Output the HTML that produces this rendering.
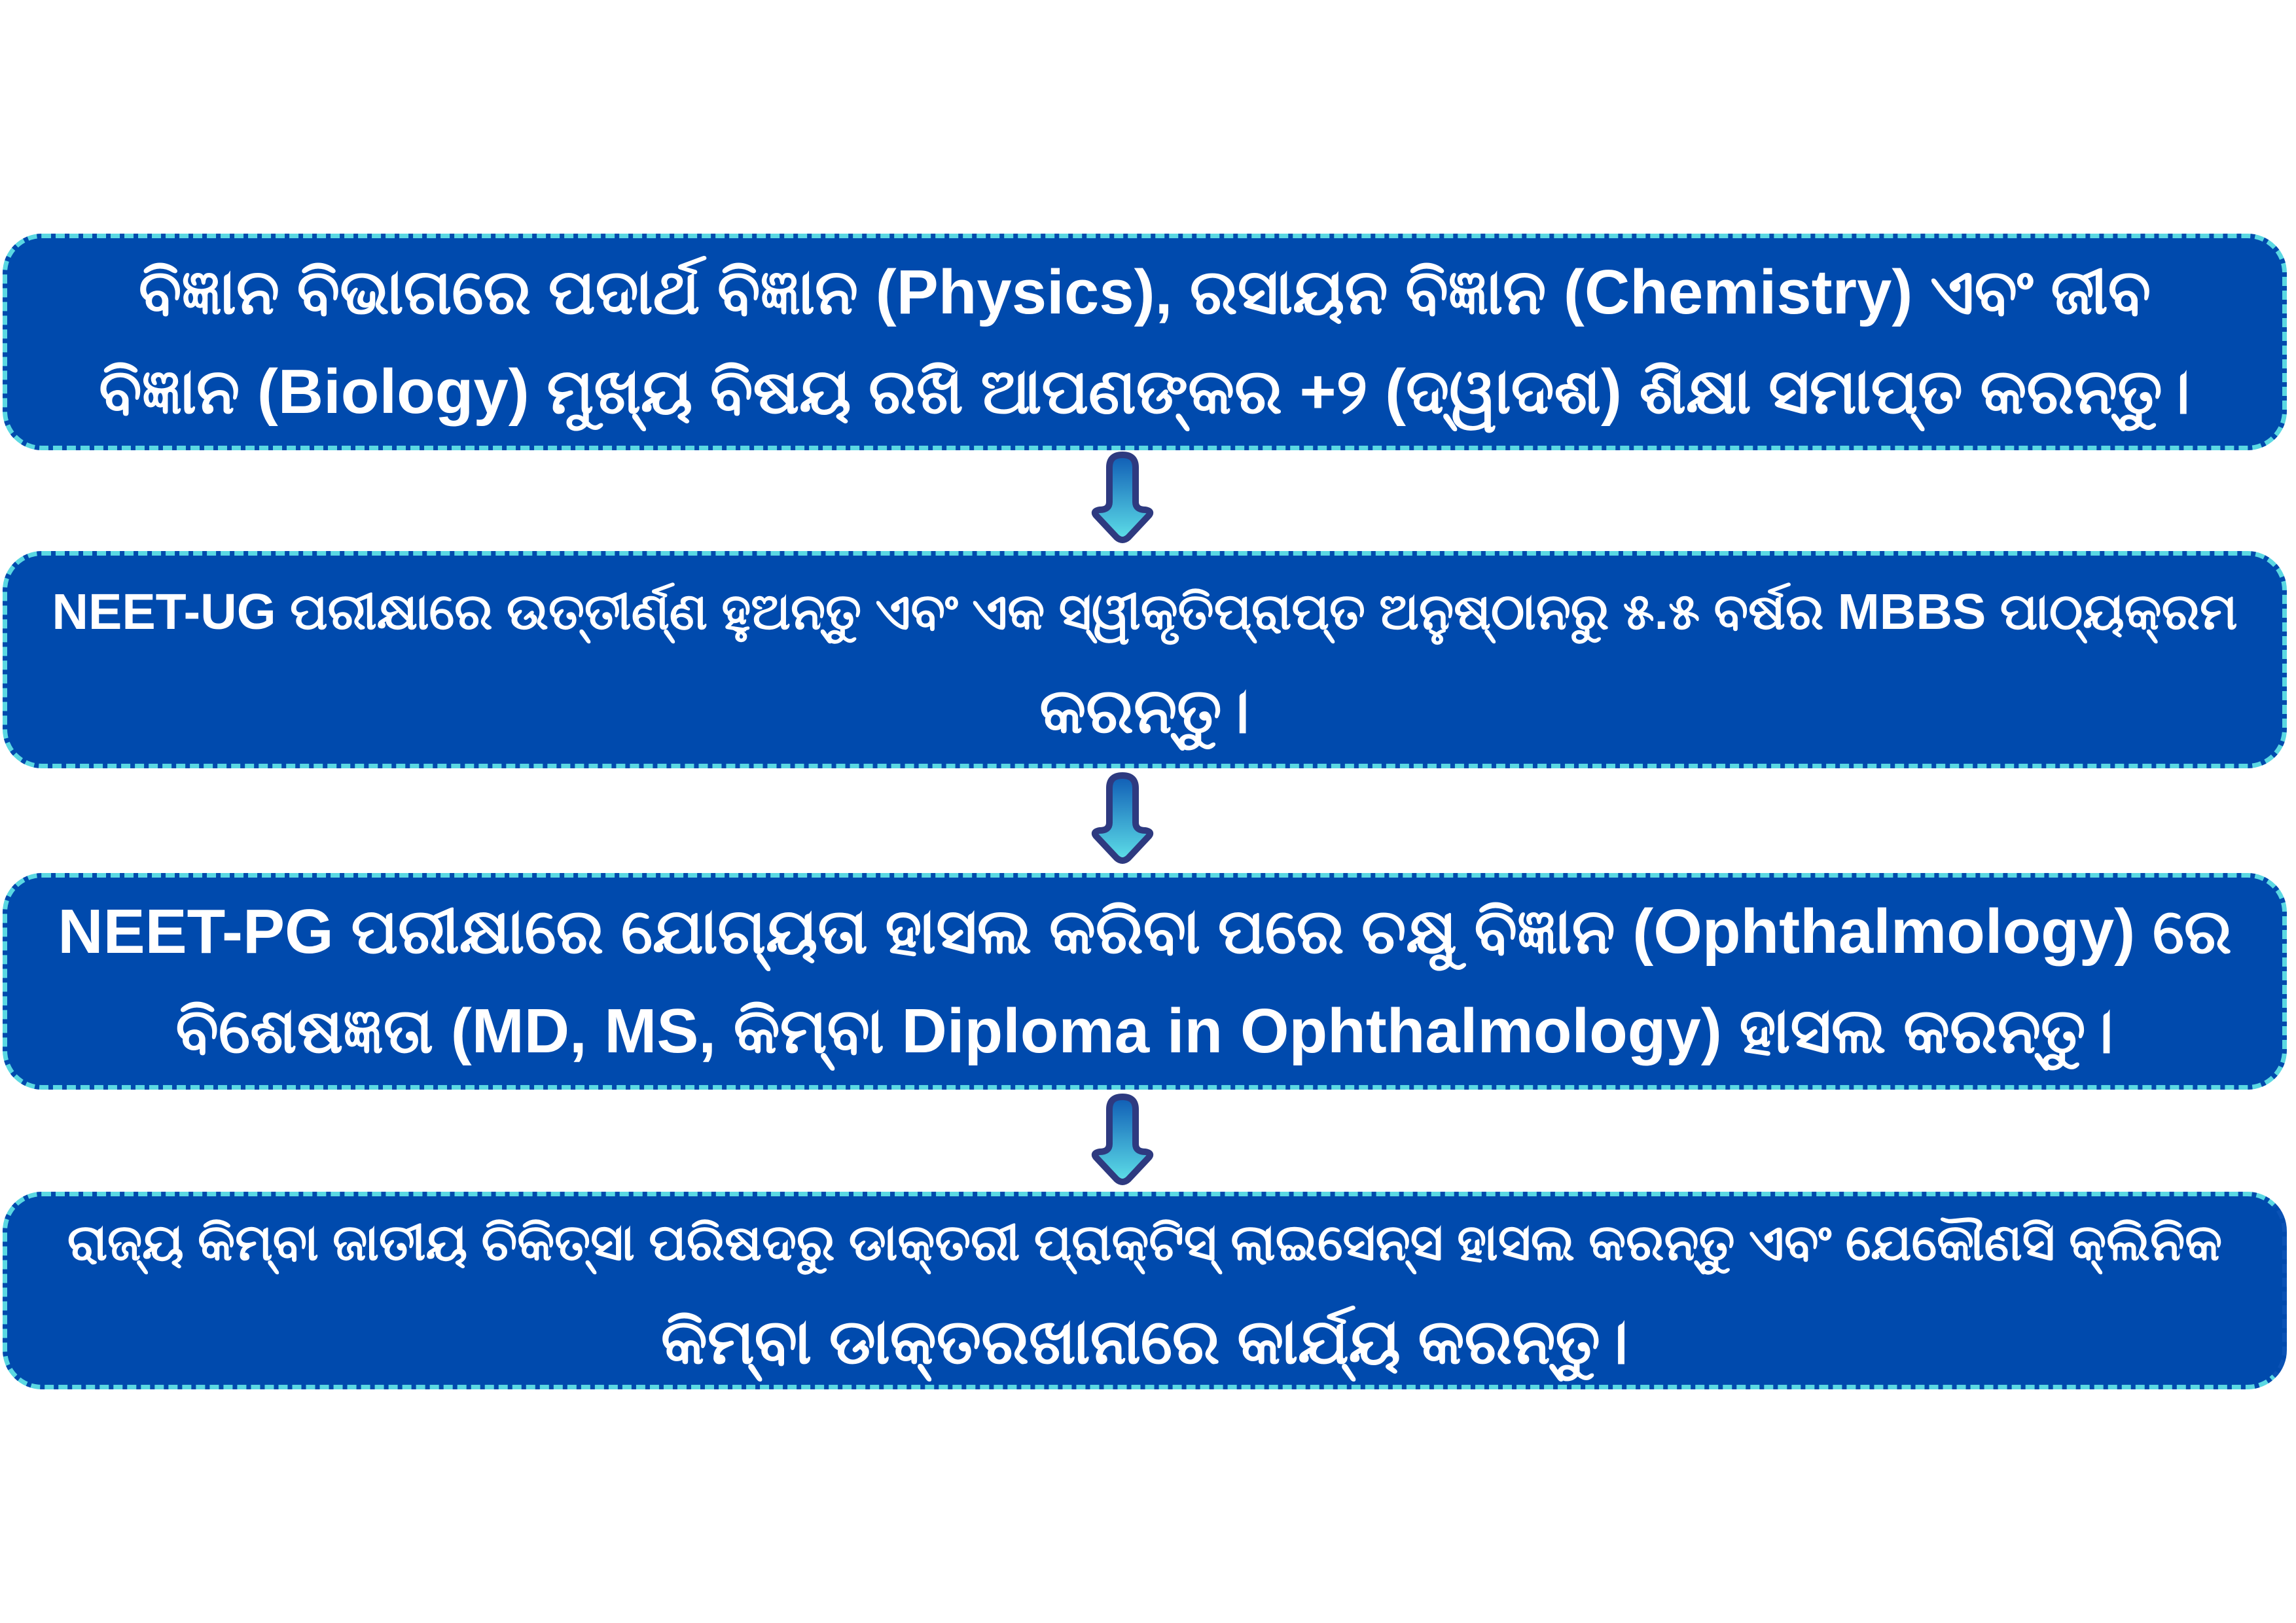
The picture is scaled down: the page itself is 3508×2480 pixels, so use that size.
<!DOCTYPE html>
<html><head><meta charset="utf-8"><style>
html,body{margin:0;padding:0;background:#fff;}
body{width:3508px;height:2480px;position:relative;overflow:hidden;font-family:"Liberation Sans","DejaVu Sans",sans-serif;}
.box{position:absolute;left:4px;width:3490px;background:#004aad;border:7px dashed #5ad8e2;border-radius:60px;box-sizing:border-box;color:#fff;font-weight:bold;font-size:96px;line-height:152px;text-align:center;display:flex;align-items:center;justify-content:center;padding:0 10px;white-space:nowrap;}
.sm{font-size:77px;}
.arr{position:absolute;left:1662px;width:106px;height:142px;}
</style></head><body>
<div class="box" style="top:357px;height:331px;"><div>ବିଜ୍ଞାନ ବିଭାଗରେ ପଦାର୍ଥ ବିଜ୍ଞାନ (Physics), ରସାୟନ ବିଜ୍ଞାନ (Chemistry) ଏବଂ ଜୀବ<br>ବିଜ୍ଞାନ (Biology) ମୁଖ୍ୟ ବିଷୟ ରଖି ଆପଣଙ୍କର +୨ (ଦ୍ୱାଦଶ) ଶିକ୍ଷା ସମାପ୍ତ କରନ୍ତୁ।</div></div>
<div class="box" style="top:842px;height:332px;"><div><span class="sm">NEET-UG ପରୀକ୍ଷାରେ ଉତ୍ତୀର୍ଣ୍ଣ ହୁଅନ୍ତୁ ଏବଂ ଏକ ସ୍ୱୀକୃତିପ୍ରାପ୍ତ ଅନୁଷ୍ଠାନରୁ ୫.୫ ବର୍ଷର MBBS ପାଠ୍ୟକ୍ରମ</span><br>କରନ୍ତୁ।</div></div>
<div class="box" style="top:1334px;height:331px;"><div>NEET-PG ପରୀକ୍ଷାରେ ଯୋଗ୍ୟତା ହାସଲ କରିବା ପରେ ଚକ୍ଷୁ ବିଜ୍ଞାନ (Ophthalmology) ରେ<br>ବିଶେଷଜ୍ଞତା (MD, MS, କିମ୍ବା Diploma in Ophthalmology) ହାସଲ କରନ୍ତୁ।</div></div>
<div class="box" style="top:1821px;height:302px;border-right-color:#0a52b5;"><div><span class="sm">ରାଜ୍ୟ କିମ୍ବା ଜାତୀୟ ଚିକିତ୍ସା ପରିଷଦରୁ ଡାକ୍ତରୀ ପ୍ରାକ୍ଟିସ୍ ଲାଇସେନ୍ସ ହାସଲ କରନ୍ତୁ ଏବଂ ଯେକୌଣସି କ୍ଲିନିକ</span><br>କିମ୍ବା ଡାକ୍ତରଖାନାରେ କାର୍ଯ୍ୟ କରନ୍ତୁ।</div></div>
<svg width="0" height="0" style="position:absolute"><defs><linearGradient id="g" x1="0" y1="0" x2="0" y2="1"><stop offset="0" stop-color="#0f5cb5"/><stop offset="1" stop-color="#5ee0e8"/></linearGradient></defs></svg>
<svg class="arr" style="top:689px" viewBox="0 0 106 142"><path d="M33 25 Q33 6 53 6 Q73 6 73 25 L73 78 Q73 90 88 90 Q100 92 92 100 L62 132 Q53 140 44 132 L14 100 Q6 92 18 90 Q33 90 33 78 Z" fill="url(#g)" stroke="#2e3a80" stroke-width="10" stroke-linejoin="round"/></svg>
<svg class="arr" style="top:1179px" viewBox="0 0 106 142"><path d="M33 25 Q33 6 53 6 Q73 6 73 25 L73 78 Q73 90 88 90 Q100 92 92 100 L62 132 Q53 140 44 132 L14 100 Q6 92 18 90 Q33 90 33 78 Z" fill="url(#g)" stroke="#2e3a80" stroke-width="10" stroke-linejoin="round"/></svg>
<svg class="arr" style="top:1670px" viewBox="0 0 106 142"><path d="M33 25 Q33 6 53 6 Q73 6 73 25 L73 78 Q73 90 88 90 Q100 92 92 100 L62 132 Q53 140 44 132 L14 100 Q6 92 18 90 Q33 90 33 78 Z" fill="url(#g)" stroke="#2e3a80" stroke-width="10" stroke-linejoin="round"/></svg>
</body></html>
